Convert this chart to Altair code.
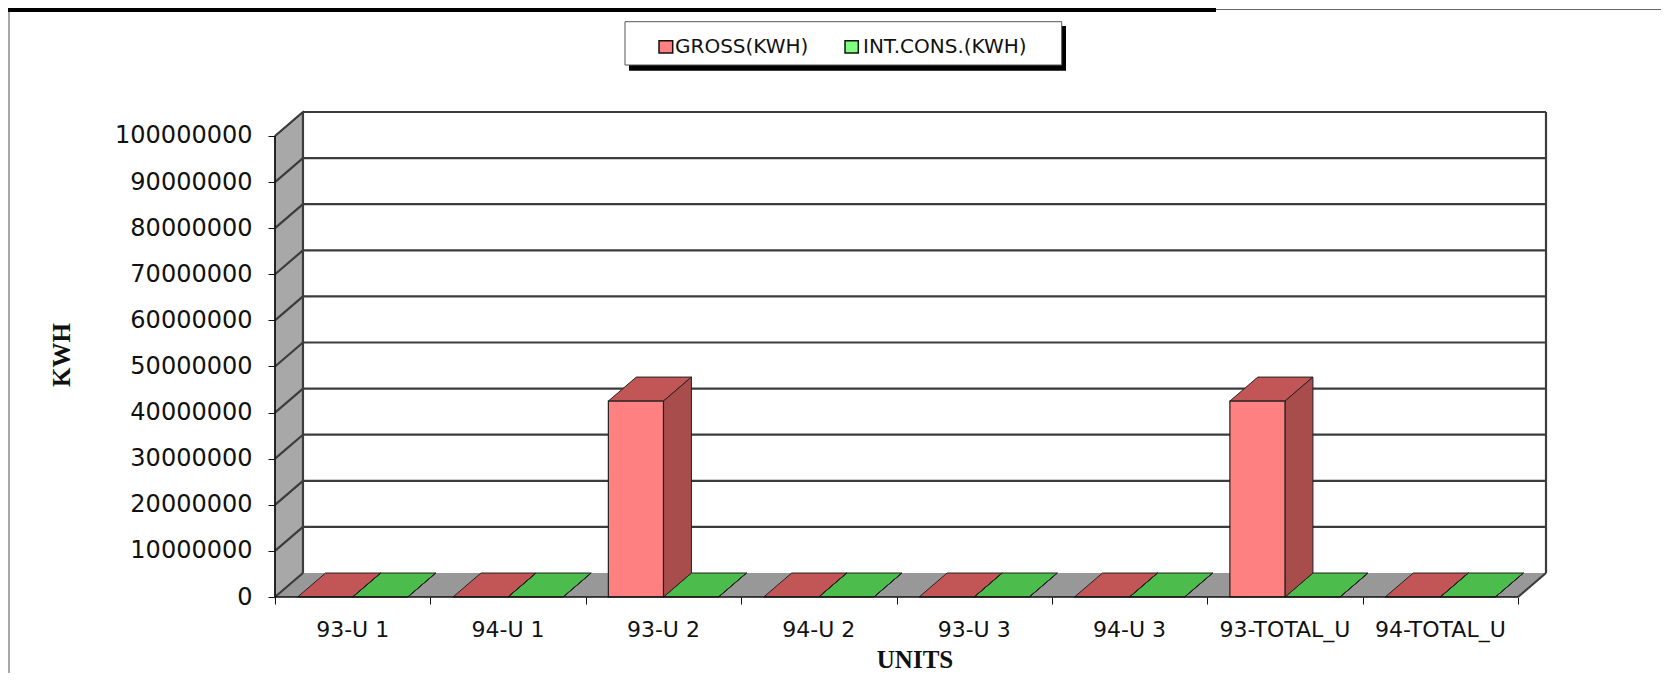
import altair as alt
import pandas as pd

# ---------------- data ----------------
categories = ["93-U 1", "94-U 1", "93-U 2", "94-U 2", "93-U 3", "94-U 3", "93-TOTAL_U", "94-TOTAL_U"]
gross_kwh = [0, 0, 42500000, 0, 0, 0, 42500000, 0]
int_cons_kwh = [0, 0, 0, 0, 0, 0, 0, 0]
series_names = ["GROSS(KWH)", "INT.CONS.(KWH)"]
y_ticks = [0, 10000000, 20000000, 30000000, 40000000, 50000000,
           60000000, 70000000, 80000000, 90000000, 100000000]

# ---------------- 3-D layout (in data units) ----------------
N = len(categories)
DX = 0.18          # depth offset, category units
DY = 5.2e6         # depth offset, kWh units
GAP = 0.1455
BW = (1 - 2 * GAP) / 2
YMAX = y_ticks[-1]

front_col = ["#ff8080", "#80ff80"]
top_col = ["#c25656", "#4cbc4c"]
side_col = ["#a84c4c", "#3a9a3a"]

bars, tops, sides = [], [], []
for i, c in enumerate(categories):
    for s, vals in enumerate([gross_kwh, int_cons_kwh]):
        name = series_names[s]
        x0 = i + GAP + s * BW
        x1 = x0 + BW
        v = vals[i]
        bid = f"{i}-{s}"
        bars.append(dict(cat=c, series=name, bar=bid, x0=x0, x1=x1, v=v, fill=front_col[s]))
        tops.append(dict(series=name, bar=bid, yy=v, xa=x0, xb=x1, fill=top_col[s]))
        tops.append(dict(series=name, bar=bid, yy=v + DY, xa=x0 + DX, xb=x1 + DX, fill=top_col[s]))
        sides.append(dict(series=name, bar=bid, xx=x1, ya=0, yb=v, fill=side_col[s]))
        sides.append(dict(series=name, bar=bid, xx=x1 + DX, ya=DY, yb=v + DY, fill=side_col[s]))
bars = pd.DataFrame(bars)
tops = pd.DataFrame(tops)
sides = pd.DataFrame(sides)

labels_df = pd.DataFrame({"cat": categories, "pos": [i + 0.5 for i in range(N)]})

xs = alt.Scale(domain=[0, N + DX], nice=False, zero=False)
ys = alt.Scale(domain=[0, YMAX + DY], nice=False, zero=False)

x_axis = alt.Axis(values=list(range(N + 1)), labels=False, domain=False, grid=False,
                  tickSize=7, tickColor="#111", tickWidth=1, title=None)
y_axis = alt.Axis(values=y_ticks, format="d", domain=False, grid=False, tickSize=7,
                  tickColor="#111", tickWidth=1, labelFont="DejaVu Sans", labelFontSize=24,
                  labelColor="#111", labelPadding=16, title=None)

def X(f):
    return alt.X(f, scale=xs, axis=x_axis, title=None)

def Y(f):
    return alt.Y(f, scale=ys, axis=y_axis, title=None)

GRID = "#3c3c3c"
fill_enc = alt.Color("fill:N", scale=None, legend=None)

# side wall (vertical parallelogram) and floor (horizontal parallelogram)
side_wall = alt.Chart(pd.DataFrame({"x": [0, DX], "y": [0, DY], "y2": [YMAX, YMAX + DY]})).mark_area(
    color="#a8a8a8", stroke=GRID, strokeWidth=1.5
).encode(x=X("x:Q"), y=Y("y:Q"), y2="y2:Q")

floor = alt.Chart(pd.DataFrame({"y": [0, DY], "x": [0, DX], "x2": [N, N + DX]})).mark_area(
    color="#989898", orient="horizontal"
).encode(y=Y("y:Q"), x=X("x:Q"), x2="x2:Q")

# structural lines
edges = []
for t in y_ticks[1:]:
    edges.append(dict(x=DX, x2=N + DX, y=t + DY, y2=t + DY))          # back-wall grid
for t in y_ticks:
    edges.append(dict(x=0, x2=DX, y=t, y2=t + DY))                      # side-wall slants
edges.append(dict(x=N + DX, x2=N + DX, y=DY, y2=YMAX + DY))             # back wall right edge
edges.append(dict(x=DX, x2=DX, y=DY, y2=YMAX + DY))                     # wall corner
edges.append(dict(x=N, x2=N + DX, y=0, y2=DY))                          # floor right slant
edges = pd.DataFrame(edges)
edge_layer = alt.Chart(edges).mark_rule(color=GRID, strokeWidth=2.2).encode(
    x=X("x:Q"), x2="x2:Q", y=Y("y:Q"), y2="y2:Q")

top_faces = alt.Chart(tops).mark_area(orient="horizontal", stroke="#222", strokeWidth=1).encode(
    y=Y("yy:Q"), x=X("xa:Q"), x2="xb:Q", detail="bar:N", color=fill_enc)

side_faces = alt.Chart(sides).mark_area(stroke="#222", strokeWidth=1).encode(
    x=X("xx:Q"), y=Y("ya:Q"), y2="yb:Q", detail="bar:N", color=fill_enc)

front_faces = alt.Chart(bars[bars["v"] > 0]).mark_rect(stroke="#222", strokeWidth=1.2).encode(
    x=X("x0:Q"), x2="x1:Q", y=Y("v:Q"), y2=alt.datum(0), color=fill_enc)

front_lines = alt.Chart(pd.DataFrame({"x": [0, 0], "x2": [N, 0], "y": [0, 0], "y2": [0, YMAX]})).mark_rule(
    color="#111", strokeWidth=1.5).encode(x=X("x:Q"), x2="x2:Q", y=Y("y:Q"), y2="y2:Q")

xlabels = alt.Chart(labels_df).mark_text(font="DejaVu Sans", fontSize=22, color="#111",
                                         baseline="alphabetic", dy=40).encode(
    x=X("pos:Q"), y=alt.datum(0, scale=ys), text="cat:N")

one = pd.DataFrame({"a": [0]})

def txt(s, x, y, **kw):
    return alt.Chart(one).mark_text(**kw).encode(x=alt.value(x), y=alt.value(y), text=alt.value(s))

def box(x, x2, y, y2, **kw):
    return alt.Chart(one).mark_rect(**kw).encode(x=alt.value(x), x2=alt.value(x2), y=alt.value(y), y2=alt.value(y2))

ytitle = txt("KWH", -213, 243, font="Liberation Serif", fontSize=25, fontWeight="bold",
             angle=270, align="center", baseline="middle", color="#111")
xtitle = txt("UNITS", 640, 556, font="Liberation Serif", fontSize=25, fontWeight="bold",
             align="center", baseline="alphabetic", color="#111")

legend_layers = [
    box(354, 791, -86, -41.3, color="#000"),
    box(350, 786.7, -90.3, -47, fill="#fff", stroke="#555", strokeWidth=1),
    box(384, 397.7, -71.3, -59, fill=front_col[0], stroke="#111", strokeWidth=1.5),
    box(570, 583.3, -71.3, -59, fill=front_col[1], stroke="#111", strokeWidth=1.5),
    txt(series_names[0], 400, -58.7, font="DejaVu Sans", fontSize=20, align="left",
        baseline="alphabetic", color="#111"),
    txt(series_names[1], 588, -58.7, font="DejaVu Sans", fontSize=20, align="left",
        baseline="alphabetic", color="#111"),
]

frame_layers = [
    box(-267, 941, -104, -100, color="#000"),
    box(941, 1386, -103, -102, color="#666"),
    box(-267, -265, -100, 561, color="#a8a8a8"),
]

chart = alt.layer(
    side_wall, floor, edge_layer, top_faces, side_faces, front_faces, front_lines,
    xlabels, ytitle, xtitle, *legend_layers, *frame_layers
).properties(
    width=1271, height=485,
    padding={"left": 267, "top": 104, "right": 115, "bottom": 76},
    autosize=alt.AutoSizeParams(type="none"),
    background="white",
).configure_view(stroke=None)

chart.save("out.html", embed_options={"renderer": "svg", "actions": False})
